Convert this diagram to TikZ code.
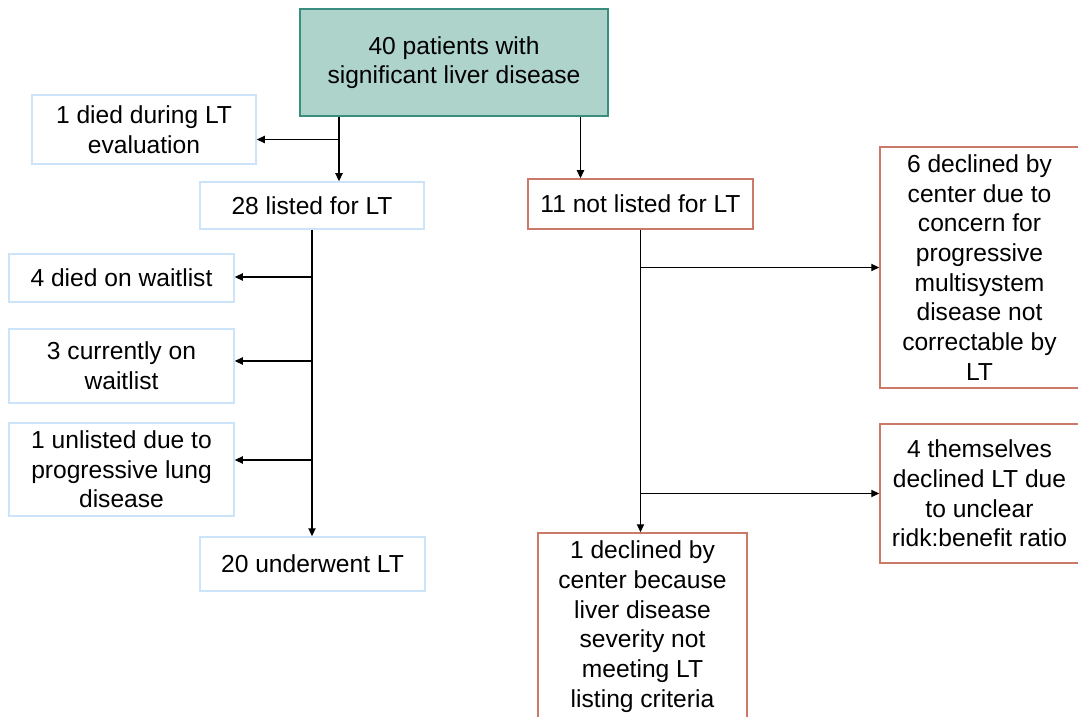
\documentclass[tikz,border=0pt]{standalone}
\usepackage{fontspec}
\setmainfont{Liberation Sans}
\usepackage{xcolor}
\usepackage{tikz}
\usetikzlibrary{arrows.meta}
\definecolor{tealfill}{RGB}{174,211,203}
\definecolor{tealdraw}{RGB}{58,142,128}
\definecolor{bluedraw}{RGB}{204,228,250}
\definecolor{reddraw}{RGB}{204,122,104}
\newcommand{\flowfont}{\fontsize{12.3}{14.85}\selectfont}

\begin{document}
\begin{tikzpicture}[x=0.5pt, y=-0.5pt,
  box/.style={align=center, font=\flowfont, inner sep=0pt, line width=0.75pt},
  tbox/.style={box, draw=tealdraw, fill=tealfill},
  lbox/.style={box, draw=bluedraw},
  rbox/.style={box, draw=reddraw},
  wh/.style 2 args={minimum width=#1*0.5pt, minimum height=#2*0.5pt},
  arr/.style={-{Triangle[length=4pt, width=3.6pt]}, line width=0.65pt, black}]
\useasboundingbox (0,0) rectangle (1078,717);
% top and first split
\node[tbox, wh={308}{107}] (root) at (454,62.5) {40 patients with\\significant liver disease};
\node[lbox, wh={224}{69}] (evaldied) at (144,129.5) {1 died during LT\\evaluation};
\node[lbox, wh={224}{47}] (listed) at (312,205.5) {28 listed for LT};
\node[rbox, wh={225}{50}] (notlisted) at (640.5,204) {11 not listed for LT};
% listed side
\node[lbox, wh={225}{48}] (wldied) at (121.5,278) {4 died on waitlist};
\node[lbox, wh={225}{74}] (wlcur) at (121.5,366) {3 currently on\\waitlist};
\node[lbox, wh={225}{93}] (unlisted) at (121.5,469.5) {1 unlisted due to\\progressive lung\\disease};
\node[lbox, wh={225}{54}] (underwent) at (312.5,564) {20 underwent LT};
% not listed side
\node[rbox, wh={199}{241}] (centerdec) at (979.5,267.5) {6 declined by\\center due to\\concern for\\progressive\\multisystem\\disease not\\correctable by\\LT};
\node[rbox, wh={199}{139}] (selfdec) at (979.5,493.5) {4 themselves\\declined LT due\\to unclear\\ridk:benefit ratio};
\node[rbox, wh={209}{187}] (lowdec) at (642.5,626.5) {1 declined by\\center because\\liver disease\\severity not\\meeting LT\\listing criteria};
% connectors
\coordinate (ja) at (339,139.5);
\coordinate (jb) at (580.5,0);
\draw[arr] (root.south -| ja) -- (ja |- listed.north);
\draw[arr] (ja) -- (ja -| evaldied.east);
\draw[arr] (root.south -| jb) -- (jb |- notlisted.north);
\draw[arr] (listed.south) -- (listed.south |- underwent.north);
\coordinate (b1) at (312,277);
\coordinate (b2) at (312,361);
\coordinate (b3) at (312,460);
\draw[arr] (b1) -- (b1 -| wldied.east);
\draw[arr] (b2) -- (b2 -| wlcur.east);
\draw[arr] (b3) -- (b3 -| unlisted.east);
\draw[arr] (notlisted.south) -- (notlisted.south |- lowdec.north);
\draw[arr] (notlisted.south |- centerdec.west) -- (centerdec.west);
\draw[arr] (notlisted.south |- selfdec.west) -- (selfdec.west);
\end{tikzpicture}
\end{document}
